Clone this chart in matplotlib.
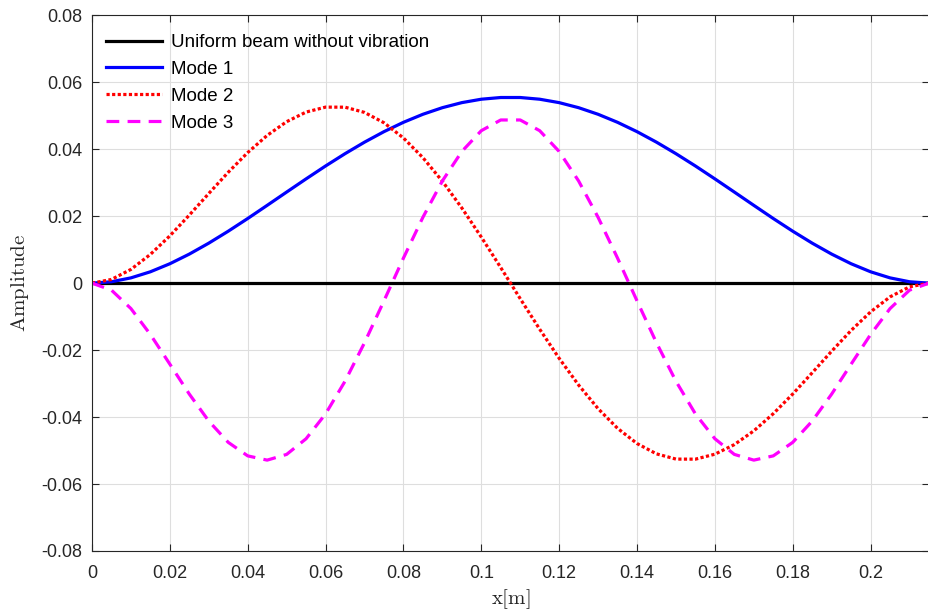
import numpy as np
import matplotlib
matplotlib.use("Agg")
import matplotlib.pyplot as plt

# beam length [m] and amplitude samples (44 points, dx = 0.005 m)
beam_length = 0.215
n_points = 44

mode1 = [0, 0.00041, 0.00157, 0.00339, 0.00579, 0.00867, 0.01194, 0.01551, 0.01930,
         0.02323, 0.02720, 0.03114, 0.03499, 0.03866, 0.04210, 0.04524, 0.04803,
         0.05043, 0.05240, 0.05391, 0.05493, 0.05544, 0.05544, 0.05493, 0.05391,
         0.05240, 0.05043, 0.04803, 0.04524, 0.04210, 0.03866, 0.03499, 0.03114,
         0.02720, 0.02323, 0.01930, 0.01551, 0.01194, 0.00867, 0.00579, 0.00339,
         0.00157, 0.00041, 0]

mode2 = [0, 0.00110, 0.00410, 0.00858, 0.01412, 0.02032, 0.02677, 0.03311, 0.03899,
         0.04412, 0.04822, 0.05109, 0.05257, 0.05255, 0.05099, 0.04790, 0.04336,
         0.03748, 0.03044, 0.02245, 0.01376, 0.00464, -0.00464, -0.01376, -0.02245,
         -0.03044, -0.03748, -0.04336, -0.04790, -0.05099, -0.05255, -0.05257,
         -0.05109, -0.04822, -0.04412, -0.03899, -0.03311, -0.02677, -0.02032,
         -0.01412, -0.00858, -0.00410, -0.00110, 0]

mode3 = [0, -0.00209, -0.00759, -0.01533, -0.02419, -0.03313, -0.04119, -0.04755,
         -0.05159, -0.05286, -0.05115, -0.04647, -0.03905, -0.02930, -0.01781,
         -0.00529, 0.00747, 0.01966, 0.03051, 0.03932, 0.04553, 0.04873, 0.04873,
         0.04553, 0.03932, 0.03051, 0.01966, 0.00747, -0.00529, -0.01781, -0.02930,
         -0.03905, -0.04647, -0.05115, -0.05286, -0.05159, -0.04755, -0.04119,
         -0.03313, -0.02419, -0.01533, -0.00759, -0.00209, 0]

uniform = [0] * n_points

labels = ["Uniform beam without vibration", "Mode 1", "Mode 2", "Mode 3"]
x_ticks = [0, 0.02, 0.04, 0.06, 0.08, 0.1, 0.12, 0.14, 0.16, 0.18, 0.2]
y_ticks = [-0.08, -0.06, -0.04, -0.02, 0, 0.02, 0.04, 0.06, 0.08]

plt.rcParams['font.family'] = ['Liberation Sans', 'DejaVu Sans']
plt.rcParams['mathtext.fontset'] = 'cm'
plt.rcParams['axes.unicode_minus'] = False

x = np.linspace(0, beam_length, n_points)

fig = plt.figure(figsize=(9.29, 6.11), dpi=100)
ax = fig.add_axes([0.099, 0.0982, 0.901, 0.8768])

lw = 2.3
ax.plot(x, uniform, color='black', lw=lw, label=labels[0])
ax.plot(x, mode1, color='#0000ff', lw=lw, label=labels[1])
ax.plot(x, mode2, color='#ff0000', lw=lw, ls=(0, (1, 0.75)), label=labels[2])
ax.plot(x, mode3, color='#ff00ff', lw=lw, ls=(0, (4.0, 2.6)), label=labels[3])

ax.set_xlim(0, beam_length)
ax.set_ylim(-0.08, 0.08)
ax.set_xticks(x_ticks)
ax.set_yticks(y_ticks)
ax.set_xticklabels(['%g' % v for v in x_ticks])
ax.set_yticklabels(['%g' % v for v in y_ticks])

ax.grid(True, color='#dedede', lw=0.8)
ax.set_axisbelow(True)
for s in ax.spines.values():
    s.set_color('#262626')
    s.set_linewidth(0.8)
ax.tick_params(direction='in', length=5, width=0.8, colors='#262626',
               labelsize=13, top=True, right=True)
ax.tick_params(axis='x', pad=10)
ax.tick_params(axis='y', pad=7)

ax.set_xlabel(r'$\mathrm{x[m]}$', fontsize=15, color='#262626', labelpad=4)
ax.set_ylabel(r'$\mathrm{Amplitude}$', fontsize=15, color='#262626', labelpad=7)

leg = ax.legend(loc='upper left', bbox_to_anchor=(0.0167, 0.965), frameon=False,
                fontsize=13.5, handlelength=3.0, labelspacing=0.52,
                borderaxespad=0, handletextpad=0.45, borderpad=0)

fig.savefig('out.png', dpi=100)
